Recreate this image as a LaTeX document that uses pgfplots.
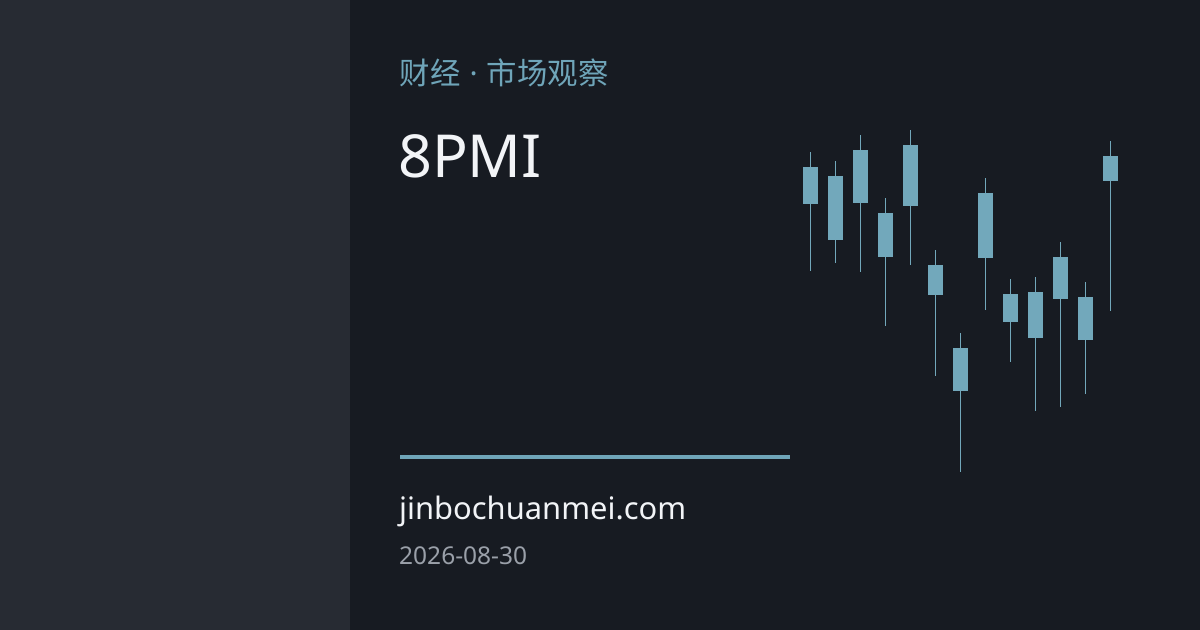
\documentclass[border=0pt]{standalone}
\usepackage{pgfplots}
\pgfplotsset{compat=1.18}
\usepackage{pgfplotstable}
\usepackage{fontspec}
\setmainfont{Noto Sans}
\newfontfamily\cjk{Noto Sans CJK SC}
\definecolor{leftbg}{HTML}{272B33}
\definecolor{rightbg}{HTML}{171B22}
\definecolor{candle}{HTML}{72A8BB}
\definecolor{sub}{HTML}{6FA5B9}
\definecolor{datec}{HTML}{9AA0A9}
\definecolor{whitet}{HTML}{F2F4F7}

% candles: x position (px), high, body top, body bottom, low (value = 630 - pixel row)
\pgfplotstableread{
x      hi   btop bbot lo
810.5  478  463  426  359
835.5  469  454  390  367
860.5  495  480  427  358
885.5  432  417  373  304
910.5  500  485  424  365
935.5  380  365  335  254
960.5  297  282  239  158
985.5  452  437  372  320
1010.5 351  336  308  268
1035.5 353  338  292  219
1060.5 388  373  331  223
1085.5 348  333  290  236
1110.5 489  474  449  319
}\candles

\begin{document}
\begin{tikzpicture}
\begin{axis}[
  scale only axis,
  width=1200bp, height=630bp,
  xmin=0, xmax=1200, ymin=0, ymax=630,
  hide axis, clip=false,
]
% backgrounds
\fill[rightbg] (axis cs:0,0) rectangle (axis cs:1200,630);
\fill[leftbg] (axis cs:0,0) rectangle (axis cs:350,630);
% wicks
\addplot[draw=none, mark=none,
  error bars/.cd, y dir=plus, y explicit, error mark=none,
  error bar style={draw=candle, line width=1.1bp}]
  table[x=x, y=lo, y error expr=\thisrow{hi}-\thisrow{lo}] {\candles};
% bodies
\addplot[draw=none, mark=none,
  error bars/.cd, y dir=plus, y explicit, error mark=none,
  error bar style={draw=candle, line width=15bp}]
  table[x=x, y=bbot, y error expr=\thisrow{btop}-\thisrow{bbot}] {\candles};
% divider line
\draw[sub, line width=3.5bp] (axis cs:400,173) -- (axis cs:790,173);
% texts
\node[anchor=base west, inner sep=0pt, text=sub, font=\cjk\fontsize{30.5}{36}\selectfont] at (axis cs:399.5,545) {财经{\normalfont\fontsize{30.5}{36}\selectfont\hspace{0.3em}·\hspace{0.3em}}市场观察};
\node[anchor=base west, inner sep=0pt, text=whitet, font=\fontsize{59.5}{70}\selectfont] at (axis cs:398,452) {8PMI};
\node[anchor=base west, inner sep=0pt, text=whitet, font=\fontsize{31}{37}\selectfont] at (axis cs:399,110) {jinbochuanmei.com};
\node[anchor=base west, inner sep=0pt, text=datec, font=\fontsize{24.6}{29}\selectfont] at (axis cs:399,65) {2026-08-30};
\end{axis}
\end{tikzpicture}
\end{document}
